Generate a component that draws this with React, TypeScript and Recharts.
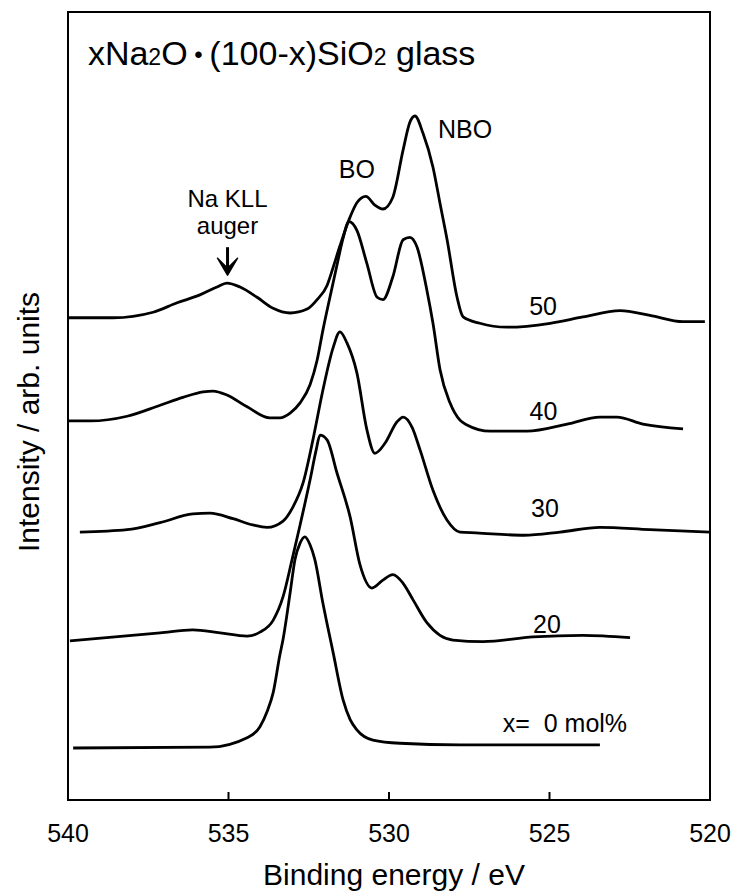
import React from 'react';
import { LineChart, Line, XAxis, YAxis, ReferenceDot, ReferenceArea, Label } from 'recharts';

const FONT = '"Liberation Sans", Arial, Helvetica, sans-serif';

// Binding energy (eV), intensity (arb. units, vertically offset spectra)
const SPEC_0: [number, number][] = [
  [539.84, 6.6], [535.58, 6.7], [534.42, 7.9], [534.02, 9.3], [533.8, 11.2],
  [533.61, 13.6], [533.4, 18.4], [533.3, 20.4], [533.08, 26.3], [532.93, 30.5],
  [532.77, 32.6], [532.62, 33.4], [532.46, 32.4], [532.31, 30.5], [532.06, 25.0],
  [531.74, 18.7], [531.43, 12.7], [531.21, 10.2], [531.0, 8.9], [530.5, 7.6],
  [529.66, 7.2], [527.79, 7.0], [523.43, 7.0],
];

const SPEC_20: [number, number][] = [
  [539.94, 20.2], [537.13, 21.2], [536.11, 21.6], [535.26, 21.2], [534.42, 20.8],
  [534.02, 21.3], [533.61, 22.8], [533.3, 25.8], [533.02, 30.5], [532.77, 34.9],
  [532.46, 40.6], [532.27, 44.4], [532.15, 46.3], [531.93, 45.7], [531.62, 41.5],
  [531.21, 35.9], [530.9, 29.8], [530.53, 26.9], [530.19, 27.9], [529.88, 28.6],
  [529.56, 27.5], [529.25, 25.4], [528.82, 22.5], [528.41, 20.9], [528.01, 20.3],
  [527.07, 20.1], [525.51, 20.7], [523.96, 20.9], [522.49, 20.6],
];

const SPEC_30: [number, number][] = [
  [539.63, 34.0], [538.16, 34.3], [537.13, 35.2], [536.11, 36.3], [535.58, 36.4],
  [534.86, 35.7], [534.24, 34.9], [533.8, 34.6], [533.3, 35.4], [532.99, 37.2],
  [532.68, 40.2], [532.37, 45.7], [532.06, 52.0], [531.74, 57.4], [531.53, 59.4],
  [531.31, 58.0], [531.0, 54.2], [530.69, 47.0], [530.44, 44.0], [530.12, 45.3],
  [529.75, 48.0], [529.56, 48.6], [529.28, 47.3], [529.03, 44.4], [528.63, 39.3],
  [528.19, 35.5], [527.79, 34.0], [527.29, 33.9], [525.79, 33.6], [524.67, 34.0],
  [523.43, 34.6], [521.87, 34.3], [520.0, 34.0],
];

const SPEC_40: [number, number][] = [
  [540.0, 48.1], [539.31, 48.1], [538.16, 48.7], [537.13, 50.1], [536.42, 51.1],
  [535.79, 51.8], [535.48, 51.9], [535.05, 51.4], [534.42, 49.9], [533.71, 48.5],
  [533.4, 48.5], [533.08, 49.1], [532.77, 50.4], [532.46, 52.7], [532.24, 55.8],
  [532.06, 59.6], [531.84, 63.8], [531.62, 67.9], [531.43, 71.3], [531.25, 73.4],
  [531.0, 72.3], [530.69, 68.1], [530.37, 63.8], [530.19, 63.5], [529.88, 66.4],
  [529.56, 71.1], [529.35, 71.4], [529.13, 70.2], [528.82, 64.7], [528.63, 60.5],
  [528.41, 54.6], [528.1, 50.4], [527.79, 48.2], [527.57, 47.6], [526.85, 46.8],
  [525.7, 46.8], [524.45, 47.7], [523.43, 48.6], [522.9, 48.6], [522.09, 47.7],
  [520.84, 47.1],
];

const SPEC_50: [number, number][] = [
  [540.0, 61.2], [538.6, 61.2], [537.35, 61.9], [536.6, 63.1], [535.89, 64.1],
  [535.36, 65.1], [535.05, 65.6], [534.64, 65.1], [534.11, 63.8], [533.61, 62.4],
  [533.08, 61.8], [532.55, 62.3], [532.24, 63.5], [531.93, 65.3], [531.74, 67.6],
  [531.53, 70.3], [531.21, 74.0], [531.0, 75.8], [530.72, 76.6], [530.44, 75.5],
  [530.19, 75.0], [529.88, 76.5], [529.56, 82.5], [529.35, 86.0], [529.19, 86.8],
  [528.94, 84.6], [528.63, 80.3], [528.41, 75.7], [528.19, 71.1], [527.88, 63.8],
  [527.69, 61.3], [527.17, 60.5], [526.32, 60.0], [524.98, 60.5], [523.96, 61.3],
  [522.8, 62.1], [521.87, 61.5], [520.84, 60.7], [520.16, 60.7],
];

const ENERGY_TICKS = [540, 535, 530, 525, 520];
const SERIES_LABELS = ['x=\u00a0\u00a00 mol%', '20', '30', '40', '50'];
const PEAK_LABELS = ['BO', 'NBO'];
const AUGER_LABELS = ['Na KLL', 'auger'];

const toData = (pts: [number, number][]) => pts.map(([e, i]) => ({ e, i }));
const SERIES = [SPEC_0, SPEC_20, SPEC_30, SPEC_40, SPEC_50].map(toData);

// annotation anchor points (data coordinates: energy, intensity) – layout only
const SERIES_LABEL_POS: [number, number][] = [
  [524.52, 8.6], [525.08, 21.2], [525.14, 35.9], [525.19, 48.2], [525.2, 61.5],
];
const PEAK_LABEL_POS: [number, number][] = [[531.0, 78.9], [527.63, 84.0]];
const AUGER_LABEL_POS: [number, number][] = [[535.03, 75.2], [535.03, 71.8]];
const ARROW_POS: [number, number] = [535.03, 66.6];
const TITLE_POS: [number, number] = [539.38, 93.3];

const AXIS_STYLE = { stroke: '#000', strokeWidth: 2 };

const EnergyTick = (props: any) => {
  const { x, y, payload } = props;
  const v = payload.value;
  const inner = v !== 540 && v !== 520;
  return (
    <g>
      {inner && <line x1={x} y1={y} x2={x} y2={y - 8} stroke="#000" strokeWidth={2} />}
      <text x={x} y={y + 42} textAnchor="middle" fontSize={25} fontFamily={FONT} fill="#000">
        {v}
      </text>
    </g>
  );
};

const textShape = (text: string, size = 25) => (p: any) => (
  <text x={p.cx} y={p.cy} textAnchor="middle" fontSize={size} fontFamily={FONT} fill="#000">
    {text}
  </text>
);

const arrowShape = (p: any) => {
  const { cx, cy } = p;
  return (
    <g>
      <line x1={cx} y1={cy - 28} x2={cx} y2={cy - 8} stroke="#000" strokeWidth={3} />
      <path d={`M${cx - 10},${cy - 17} L${cx},${cy - 7} L${cx + 10},${cy - 17} L${cx},${cy} Z`} fill="#000" stroke="#000" strokeWidth={1.5} strokeLinejoin="round" />
    </g>
  );
};

const titleShape = (p: any) => (
  <text x={p.cx} y={p.cy} textAnchor="start" fontSize={34} fontFamily={FONT} fill="#000">
    xNa<tspan fontSize={23}>2</tspan>O<tspan fontSize={24} dy={-2}>{'\u00a0\u2022\u00a0'}</tspan><tspan dy={2}>(100-x)SiO</tspan><tspan fontSize={23}>2</tspan> glass
  </text>
);

const XTitle = (props: any) => {
  const { viewBox } = props;
  return (
    <text x={viewBox.x + viewBox.width / 2 + 5} y={viewBox.y + 85} textAnchor="middle" fontSize={30} fontFamily={FONT} fill="#000">
      Binding energy / eV
    </text>
  );
};

const YTitle = (props: any) => {
  const { viewBox } = props;
  const x = 31;
  const y = viewBox.y + viewBox.height / 2 + 16;
  return (
    <text x={x} y={y} transform={`rotate(-90, ${x}, ${y})`} textAnchor="middle" fontSize={30} fontFamily={FONT} fill="#000">
      Intensity / arb. units
    </text>
  );
};

export default function App() {
  return (
    <LineChart width={726} height={886} margin={{ top: 4, right: 24, bottom: 6, left: 0 }} style={{ overflow: 'visible' }}>
      <XAxis
        dataKey="e"
        type="number"
        domain={[520, 540]}
        reversed
        ticks={ENERGY_TICKS}
        interval={0}
        allowDataOverflow
        height={88}
        tickSize={0}
        tickMargin={0}
        tickLine={false}
        tick={<EnergyTick />}
        axisLine={AXIS_STYLE}
      >
        <Label content={<XTitle />} />
      </XAxis>
      <YAxis
        type="number"
        domain={[0, 100]}
        width={60}
        tick={false}
        tickLine={false}
        axisLine={AXIS_STYLE}
        allowDataOverflow
      >
        <Label content={<YTitle />} />
      </YAxis>
      <ReferenceArea x1={540} x2={520} y1={0} y2={100} fill="none" fillOpacity={0} stroke="#000" strokeWidth={2} />
      {SERIES.map((d, idx) => (
        <Line
          key={idx}
          data={d}
          dataKey="i"
          type="monotone"
          stroke="#000"
          strokeWidth={2.8}
          dot={false}
          activeDot={false}
          isAnimationActive={false}
        />
      ))}
      {SERIES_LABELS.map((t, idx) => (
        <ReferenceDot key={'s' + idx} x={SERIES_LABEL_POS[idx][0]} y={SERIES_LABEL_POS[idx][1]} r={0} shape={textShape(t)} />
      ))}
      {PEAK_LABELS.map((t, idx) => (
        <ReferenceDot key={'p' + idx} x={PEAK_LABEL_POS[idx][0]} y={PEAK_LABEL_POS[idx][1]} r={0} shape={textShape(t)} />
      ))}
      {AUGER_LABELS.map((t, idx) => (
        <ReferenceDot key={'a' + idx} x={AUGER_LABEL_POS[idx][0]} y={AUGER_LABEL_POS[idx][1]} r={0} shape={textShape(t, 24)} />
      ))}
      <ReferenceDot x={ARROW_POS[0]} y={ARROW_POS[1]} r={0} shape={arrowShape} />
      <ReferenceDot x={TITLE_POS[0]} y={TITLE_POS[1]} r={0} shape={titleShape} />
    </LineChart>
  );
}
